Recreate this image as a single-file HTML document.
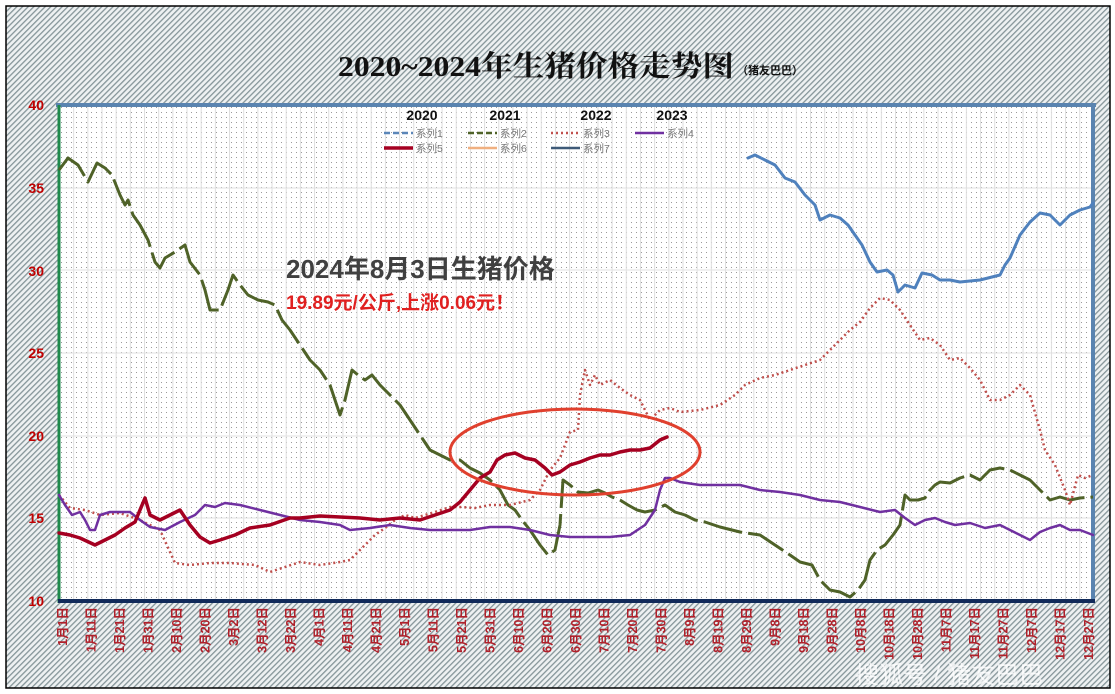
<!DOCTYPE html>
<html><head><meta charset="utf-8"><style>
html,body{margin:0;padding:0;background:#fff;}
svg{display:block;}
</style></head><body>
<svg width="1115" height="694" viewBox="0 0 1115 694" xmlns="http://www.w3.org/2000/svg" font-family="Liberation Sans, Noto Sans CJK SC, sans-serif">
<defs>
<pattern id="hatch" width="4" height="4" patternUnits="userSpaceOnUse" patternTransform="rotate(45)">
<rect width="4" height="4" fill="#eef1f2"/><rect width="1.3" height="4" fill="#859599"/>
</pattern>
<pattern id="dots" width="5" height="5" patternUnits="userSpaceOnUse" x="59" y="105">
<rect width="5" height="5" fill="#fff"/><rect x="2" y="2" width="1" height="1" fill="#9a9a9a"/>
</pattern>
<pattern id="vg" width="14.17" height="10" patternUnits="userSpaceOnUse" x="59" y="0">
<rect x="0" width="1" height="10" fill="#dedede"/>
</pattern>
</defs>
<rect width="1115" height="694" fill="#fff"/>
<rect x="6" y="6" width="1104" height="682" fill="url(#hatch)" stroke="#000" stroke-width="1.5"/>
<rect x="59" y="105" width="1034" height="496" fill="url(#dots)"/>
<rect x="59" y="105" width="1034" height="496" fill="url(#vg)"/>
<g stroke="#e2e2e2" stroke-width="1"><line x1="59" y1="188" x2="1093" y2="188"/><line x1="59" y1="270" x2="1093" y2="270"/><line x1="59" y1="353" x2="1093" y2="353"/><line x1="59" y1="436" x2="1093" y2="436"/><line x1="59" y1="518" x2="1093" y2="518"/></g>
<line x1="56" y1="105" x2="1096" y2="105" stroke="#5a84b0" stroke-width="4"/>
<line x1="1093" y1="105" x2="1093" y2="603" stroke="#5a84b0" stroke-width="4"/>
<line x1="59" y1="105" x2="59" y2="603" stroke="#1f8a4c" stroke-width="3"/>
<line x1="58" y1="601" x2="1095" y2="601" stroke="#112a5a" stroke-width="4"/>

<text x="338" y="76" font-family="Liberation Serif, Noto Serif CJK SC, serif" font-weight="bold" font-size="29" fill="#111" textLength="396" lengthAdjust="spacingAndGlyphs">2020~2024年生猪价格走势图</text>
<text x="737" y="74" font-weight="bold" font-size="11" fill="#111">（猪友巴巴）</text>

<g font-weight="bold" font-size="14" fill="#111" text-anchor="middle">
<text x="422" y="120">2020</text><text x="505" y="120">2021</text><text x="596" y="120">2022</text><text x="672" y="120">2023</text></g>
<g font-size="10.5" fill="#777">
<line x1="384" y1="133" x2="413" y2="133" stroke="#5b86b8" stroke-width="2.5" stroke-dasharray="6,3"/><text x="416" y="137">系列1</text>
<line x1="468" y1="133" x2="497" y2="133" stroke="#4f6228" stroke-width="2.5" stroke-dasharray="6,3"/><text x="500" y="137">系列2</text>
<line x1="551" y1="133" x2="580" y2="133" stroke="#c0504d" stroke-width="2.5" stroke-dasharray="2,3"/><text x="583" y="137">系列3</text>
<line x1="635" y1="133" x2="664" y2="133" stroke="#7030a0" stroke-width="2.5"/><text x="667" y="137">系列4</text>
<line x1="384" y1="148" x2="413" y2="148" stroke="#a50021" stroke-width="3.5"/><text x="416" y="152">系列5</text>
<line x1="468" y1="148" x2="497" y2="148" stroke="#f0b080" stroke-width="2.5"/><text x="500" y="152">系列6</text>
<line x1="551" y1="148" x2="580" y2="148" stroke="#3e5a78" stroke-width="2.5"/><text x="583" y="152">系列7</text>
</g>

<g font-weight="bold" font-size="14" fill="#c00000" text-anchor="end">
<text x="44" y="110">40</text><text x="44" y="193">35</text><text x="44" y="276">30</text><text x="44" y="358">25</text><text x="44" y="441">20</text><text x="44" y="523">15</text><text x="44" y="606">10</text></g>

<g font-weight="bold" font-size="12.5" fill="#b0202a" text-anchor="end">
<text transform="translate(67,607) rotate(-90)">1月1日</text>
<text transform="translate(95.5,607) rotate(-90)">1月11日</text>
<text transform="translate(124,607) rotate(-90)">1月21日</text>
<text transform="translate(152.5,607) rotate(-90)">1月31日</text>
<text transform="translate(181,607) rotate(-90)">2月10日</text>
<text transform="translate(209.5,607) rotate(-90)">2月20日</text>
<text transform="translate(238,607) rotate(-90)">3月2日</text>
<text transform="translate(266.5,607) rotate(-90)">3月12日</text>
<text transform="translate(295,607) rotate(-90)">3月22日</text>
<text transform="translate(323.5,607) rotate(-90)">4月1日</text>
<text transform="translate(352,607) rotate(-90)">4月11日</text>
<text transform="translate(380.5,607) rotate(-90)">4月21日</text>
<text transform="translate(409,607) rotate(-90)">5月1日</text>
<text transform="translate(437.5,607) rotate(-90)">5月11日</text>
<text transform="translate(466,607) rotate(-90)">5月21日</text>
<text transform="translate(494.5,607) rotate(-90)">5月31日</text>
<text transform="translate(523,607) rotate(-90)">6月10日</text>
<text transform="translate(551.5,607) rotate(-90)">6月20日</text>
<text transform="translate(580,607) rotate(-90)">6月30日</text>
<text transform="translate(608.5,607) rotate(-90)">7月10日</text>
<text transform="translate(637,607) rotate(-90)">7月20日</text>
<text transform="translate(665.5,607) rotate(-90)">7月30日</text>
<text transform="translate(694,607) rotate(-90)">8月9日</text>
<text transform="translate(722.5,607) rotate(-90)">8月19日</text>
<text transform="translate(751,607) rotate(-90)">8月29日</text>
<text transform="translate(779.5,607) rotate(-90)">9月8日</text>
<text transform="translate(808,607) rotate(-90)">9月18日</text>
<text transform="translate(836.5,607) rotate(-90)">9月28日</text>
<text transform="translate(865,607) rotate(-90)">10月8日</text>
<text transform="translate(893.5,607) rotate(-90)">10月18日</text>
<text transform="translate(922,607) rotate(-90)">10月28日</text>
<text transform="translate(950.5,607) rotate(-90)">11月7日</text>
<text transform="translate(979,607) rotate(-90)">11月17日</text>
<text transform="translate(1007.5,607) rotate(-90)">11月27日</text>
<text transform="translate(1036,607) rotate(-90)">12月7日</text>
<text transform="translate(1064.5,607) rotate(-90)">12月17日</text>
<text transform="translate(1093,607) rotate(-90)">12月27日</text>
</g>

<g fill="none" stroke-linejoin="round" stroke-linecap="round">
<polyline stroke="#4f6228" stroke-width="3" stroke-dasharray="40,6" stroke-linecap="butt" points="59,170 68,158 78,165 88,182 97,163 105,168 112,175 120,195 125,205 128,200 133,215 140,225 148,240 155,262 160,268 165,258 175,252 185,245 190,262 200,275 205,290 210,310 220,310 228,290 233,275 240,285 248,295 258,300 268,302 275,305 282,320 290,330 300,345 310,360 320,370 330,385 340,415 345,400 352,370 358,375 365,380 372,375 380,385 390,395 400,405 410,420 420,435 430,450 440,455 450,460 460,460 470,468 480,473 490,480 500,490 508,505 515,510 522,520 530,530 540,545 548,555 555,550 560,525 563,480 570,485 578,492 588,493 598,490 605,493 612,497 620,500 628,505 637,510 645,512 655,510 665,505 675,512 685,515 695,520 705,522 720,527 740,532 760,535 775,545 790,555 800,562 812,565 820,580 830,590 840,592 850,597 858,590 865,580 870,560 877,550 885,545 893,535 900,525 905,495 910,500 918,500 925,498 930,490 935,485 940,482 950,483 960,478 970,475 980,480 990,470 1000,468 1010,470 1020,475 1030,480 1040,490 1050,500 1060,497 1070,500 1080,498 1093,497"/>
<polyline stroke="#c0504d" stroke-width="2.5" stroke-dasharray="2,3" stroke-linecap="butt" points="59,495 70,508 85,510 100,515 120,513 140,520 160,530 175,563 190,565 210,563 230,563 255,565 270,572 285,567 300,562 320,565 340,562 350,560 365,545 375,535 385,528 395,520 405,515 415,518 425,515 435,512 450,507 460,507 475,508 490,505 510,505 530,500 540,490 550,470 560,458 565,445 570,432 578,430 580,395 585,370 590,385 595,375 600,385 610,380 620,388 630,395 640,400 650,420 660,410 670,408 680,412 700,410 720,405 735,395 745,385 760,378 775,375 790,370 805,365 820,360 835,345 850,330 860,322 870,308 880,298 890,300 900,310 910,325 920,340 930,338 940,345 950,360 960,358 970,368 980,380 990,400 1000,400 1010,395 1020,385 1030,395 1040,430 1045,450 1055,465 1065,490 1070,505 1078,475 1085,478 1093,475"/>
<polyline stroke="#7030a0" stroke-width="2.5" points="59,495 65,505 72,515 80,512 85,520 90,530 95,530 100,515 110,512 130,512 140,520 150,527 165,530 180,522 195,515 205,505 215,507 225,503 240,505 260,510 280,515 300,520 320,522 340,525 350,530 370,528 390,525 410,528 430,530 450,530 470,530 490,527 510,527 530,530 550,535 570,537 590,537 610,537 630,535 645,525 655,510 660,490 665,478 670,478 680,482 700,485 720,485 740,485 760,490 780,492 800,495 820,500 840,502 860,507 880,512 895,510 905,518 915,525 925,520 935,518 945,522 955,525 970,523 985,528 1000,525 1010,530 1020,535 1030,540 1040,532 1050,528 1060,525 1070,530 1080,530 1093,535"/>
<polyline stroke="#4f81bd" stroke-width="3" points="748,158 755,155 765,160 775,165 785,178 795,182 805,195 815,205 820,220 830,215 840,218 848,225 855,235 862,245 870,262 877,272 887,270 893,275 898,292 905,285 915,288 922,273 932,275 940,280 950,280 960,282 980,280 1000,275 1005,265 1010,258 1020,235 1030,222 1040,213 1050,215 1060,225 1070,215 1080,210 1090,207 1093,203"/>
<polyline stroke="#a50021" stroke-width="3.5" points="59,533 70,535 80,538 95,545 105,540 115,535 125,528 135,522 145,498 150,515 160,520 170,515 180,510 190,525 200,537 210,543 220,540 235,535 250,528 270,525 290,518 300,518 320,516 340,517 360,518 380,520 400,518 420,520 435,515 450,510 460,502 470,490 480,478 490,472 497,460 505,455 515,453 525,458 535,460 545,468 552,475 560,472 570,465 580,462 590,458 600,455 610,455 620,452 630,450 640,450 650,448 660,440 667,437"/>
</g>
<ellipse cx="575" cy="452" rx="125" ry="43" fill="none" stroke="#e0402e" stroke-width="3"/>

<text x="286" y="278" font-weight="bold" font-size="26" fill="#404040">2024年8月3日生猪价格</text>
<text x="286" y="309" font-weight="bold" font-size="19" fill="#e02020">19.89元/公斤,上涨0.06元！</text>
<text x="855" y="683" font-size="24" fill="#fff" fill-opacity="0.8">搜狐号 / 猪友巴巴</text>
</svg>
</body></html>
